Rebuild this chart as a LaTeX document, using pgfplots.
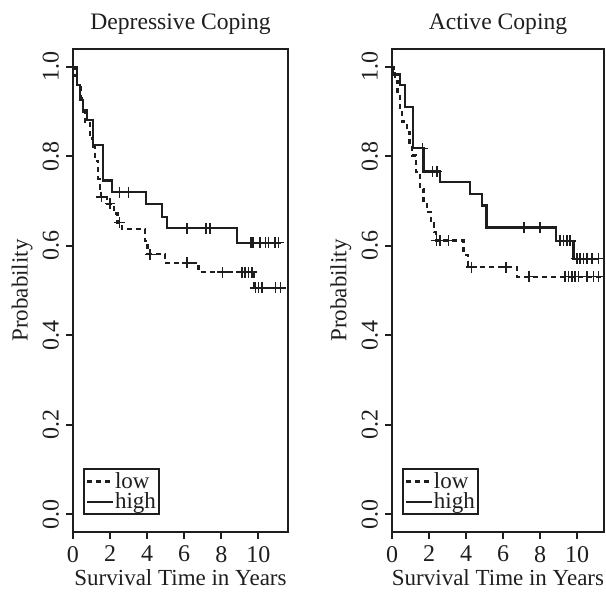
\documentclass[border=0pt]{standalone}
\usepackage{fontspec}
\setmainfont{Liberation Serif}
\usepackage{pgfplots}
\pgfplotsset{compat=1.18}
\definecolor{ink}{HTML}{1E1E1E}
\pgfplotsset{
  km/.style={
    scale only axis, height=241.5pt,
    xmin=0, ymin=-0.04, ymax=1.04,
    xtick={0,2,4,6,8,10}, ytick={0,0.2,0.4,0.6,0.8,1.0},
    tick align=outside, xtick pos=bottom, ytick pos=left,
    major tick length=3.5pt,
    axis line style={ink, line width=0.9pt},
    every tick/.style={ink, line width=0.9pt},
    /pgf/number format/assume math mode=true,
    tick label style={font=\fontsize{12}{14}\selectfont, text=ink},
    yticklabel style={/pgf/number format/fixed, /pgf/number format/fixed zerofill, /pgf/number format/precision=1, rotate=90, anchor=south},
    label style={font=\fontsize{11.5}{13}\selectfont, text=ink},
    xlabel={Survival Time in Years},
    ylabel={Probability},
    xlabel style={at={(axis description cs:0.5,0)}, anchor=center, yshift=-23pt},
    title style={at={(axis description cs:0.5,1)}, anchor=center, yshift=6.5pt, font=\fontsize{11.8}{14}\selectfont, text=ink},
    legend style={at={(rel axis cs:0.0465,0.035)}, anchor=south west, draw=ink, line width=0.9pt,
      font=\fontsize{11.5}{12}\selectfont, inner sep=1.2pt, row sep=0pt, text=ink,
      nodes={inner sep=0.3pt}},
    legend cell align=left,
    legend image code/.code={\draw[#1] (0pt,0pt) -- (13pt,0pt);},
    /tikz/every even column/.append style={column sep=0pt},
  },
  lowline/.style={ink, line width=1.1pt, const plot, mark=none, dash pattern=on 2.5pt off 2pt},
  highline/.style={ink, line width=1.1pt, const plot, mark=none},
  cens/.style={ink, only marks, mark=+, mark size=2.7pt, mark options={line width=0.75pt, solid}, forget plot},
}
\begin{document}
\begin{tikzpicture}
\useasboundingbox (0,0) rectangle (303pt,300pt);
% ---------------- Depressive Coping ----------------
\begin{axis}[km, at={(36.5pt,34pt)}, anchor=south west, width=107.5pt, xmax=11.6,
  title={Depressive Coping},
  ylabel style={at={(axis description cs:-0.237,0.5)}, anchor=center}]
\addplot[lowline] coordinates {
(0,1) (0.12,0.98) (0.2,0.955) (0.4,0.93) (0.55,0.9) (0.65,0.878) (0.92,0.84)
(1.1,0.82) (1.2,0.79) (1.37,0.75) (1.45,0.728) (1.52,0.709) (1.85,0.694)
(2.2,0.672) (2.4,0.652) (2.63,0.637) (3.9,0.61) (4.02,0.581) (4.97,0.562)
(6.77,0.541) (9.75,0.506) (11.3,0.506)};
\addlegendentry{low}
\addplot[cens] coordinates {
(1.55,0.709) (2.0,0.694) (2.5,0.652) (4.16,0.581) (6.15,0.562) (8.07,0.541)
(9.11,0.541) (9.29,0.541) (9.47,0.541) (9.65,0.541) (9.84,0.506) (10.0,0.506)
(10.2,0.506) (10.92,0.506) (11.19,0.506)};
\addplot[highline] coordinates {
(0,1) (0.2,0.96) (0.38,0.926) (0.56,0.904) (0.74,0.881) (1.1,0.825) (1.64,0.746)
(2.09,0.72) (3.95,0.694) (4.79,0.664) (5.06,0.639) (8.85,0.607) (11.2,0.607)};
\addlegendentry{high}
\addplot[cens] coordinates {
(2.5,0.72) (3.0,0.72) (6.15,0.639) (7.17,0.639) (7.4,0.639) (9.57,0.607)
(9.66,0.607) (9.75,0.607) (10.1,0.607) (10.38,0.607) (10.56,0.607) (10.9,0.607)
(11.1,0.607)};
\end{axis}
% ---------------- Active Coping ----------------
\begin{axis}[km, at={(196pt,34pt)}, anchor=south west, width=106pt, xmax=11.45,
  title={Active Coping},
  ylabel style={at={(axis description cs:-0.2406,0.5)}, anchor=center}]
\addplot[lowline] coordinates {
(0,1) (0.1,0.985) (0.16,0.968) (0.3,0.94) (0.45,0.9) (0.52,0.878) (0.79,0.855)
(0.95,0.83) (1.06,0.802) (1.3,0.765) (1.51,0.727) (1.7,0.7) (1.87,0.675)
(2.1,0.65) (2.25,0.63) (2.38,0.612) (3.86,0.58) (4.12,0.552) (6.74,0.531)
(11.3,0.531)};
\addlegendentry{low}
\addplot[cens] coordinates {
(2.41,0.612) (2.6,0.612) (3.04,0.612) (4.3,0.552) (6.16,0.552) (7.4,0.531)
(9.35,0.531) (9.53,0.531) (9.71,0.531) (9.89,0.531) (10.07,0.531) (10.52,0.531)
(10.88,0.531) (11.15,0.531)};
\addplot[highline] coordinates {
(0,1) (0.07,0.983) (0.43,0.96) (0.7,0.911) (1.15,0.818) (1.7,0.766) (2.6,0.742)
(4.2,0.716) (4.85,0.69) (5.1,0.641) (8.86,0.611) (9.8,0.571) (11.2,0.571)};
\addlegendentry{high}
\addplot[cens] coordinates {
(1.64,0.818) (2.2,0.766) (2.42,0.766) (7.14,0.641) (8.0,0.641) (9.08,0.611)
(9.26,0.611) (9.44,0.611) (9.62,0.611) (9.98,0.571) (10.16,0.571) (10.34,0.571)
(10.52,0.571) (10.8,0.571) (11.15,0.571)};
\end{axis}
\end{tikzpicture}
\end{document}
